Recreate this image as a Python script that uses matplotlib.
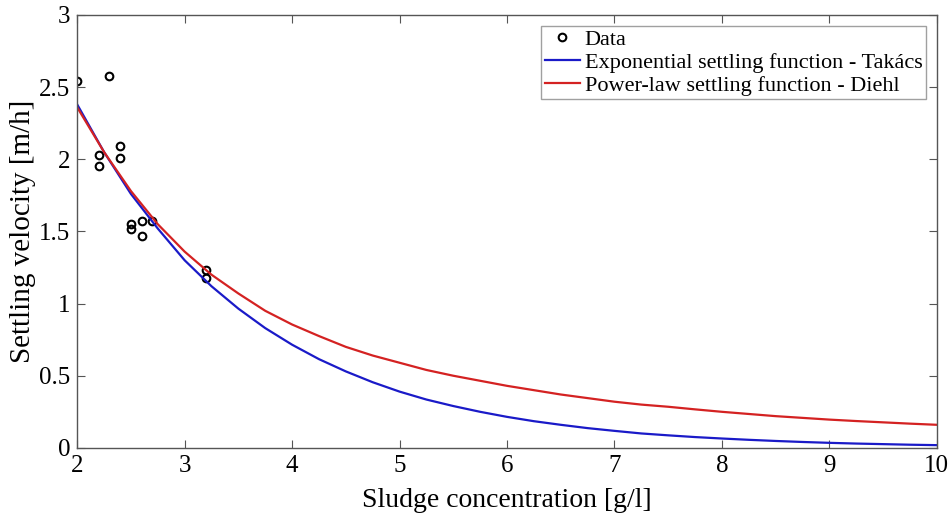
import matplotlib
matplotlib.use("Agg")
import matplotlib.pyplot as plt

# measured settling velocities
conc_data = [2.0, 2.3, 2.2, 2.2, 2.4, 2.4, 2.5, 2.5, 2.6, 2.6, 2.7, 3.2, 3.2]
vel_data = [2.54, 2.58, 2.03, 1.95, 2.09, 2.01, 1.55, 1.52, 1.57, 1.47, 1.57, 1.23, 1.18]

# curves
conc_curve = [2.0, 2.25, 2.5, 2.75, 3.0, 3.25, 3.5, 3.75, 4.0, 4.25, 4.5, 4.75,
              5.0, 5.25, 5.5, 5.75, 6.0, 6.25, 6.5, 6.75, 7.0, 7.25, 7.5, 7.75,
              8.0, 8.25, 8.5, 8.75, 9.0, 9.25, 9.5, 9.75, 10.0]
takacs = [2.38, 2.05, 1.76, 1.52, 1.30, 1.12, 0.965, 0.83, 0.715, 0.615, 0.53, 0.455,
          0.39, 0.335, 0.29, 0.25, 0.215, 0.185, 0.16, 0.137, 0.118, 0.10, 0.087, 0.075,
          0.065, 0.056, 0.048, 0.041, 0.035, 0.03, 0.026, 0.022, 0.019]
diehl = [2.36, 2.05, 1.78, 1.55, 1.36, 1.20, 1.07, 0.95, 0.855, 0.775, 0.70, 0.64,
         0.59, 0.54, 0.50, 0.465, 0.43, 0.40, 0.37, 0.345, 0.32, 0.30, 0.285, 0.267,
         0.25, 0.235, 0.22, 0.208, 0.196, 0.186, 0.177, 0.168, 0.16]

x_ticks = [2, 3, 4, 5, 6, 7, 8, 9, 10]
y_ticks = [0, 0.5, 1, 1.5, 2, 2.5, 3]

plt.rcParams['font.family'] = ['Liberation Serif', 'DejaVu Serif']

fig = plt.figure(figsize=(9.53, 5.16), dpi=100)
ax = fig.add_axes([0.081, 0.132, 0.902, 0.839])

ax.plot(conc_data, vel_data, 'o', mfc='none', mec='black', mew=1.5, ms=5.5,
        label='Data')
ax.plot(conc_curve, takacs, color='#1a1ac8', lw=1.6,
        label='Exponential settling function - Takács')
ax.plot(conc_curve, diehl, color='#d42222', lw=1.6,
        label='Power-law settling function - Diehl')

ax.set_xlim(2, 10)
ax.set_ylim(0, 3)
ax.set_xticks(x_ticks)
ax.set_yticks(y_ticks)
ax.set_yticklabels(['0', '0.5', '1', '1.5', '2', '2.5', '3'])

for s in ax.spines.values():
    s.set_color('#555555')
    s.set_linewidth(1.0)
ax.tick_params(direction='in', top=True, right=True, length=6,
               color='#555555', labelsize=18, pad=5)

ax.set_xlabel('Sludge concentration [g/l]', fontsize=20, labelpad=8)
ax.set_ylabel('Settling velocity [m/h]', fontsize=21, labelpad=2)

leg = ax.legend(loc='upper right', fontsize=16, frameon=True, fancybox=False,
                edgecolor='#888888', handlelength=1.6, handletextpad=0.2,
                borderpad=0.15, labelspacing=0.1, borderaxespad=0.5)
leg.get_frame().set_linewidth(1.0)

fig.savefig('out.png', dpi=100)
